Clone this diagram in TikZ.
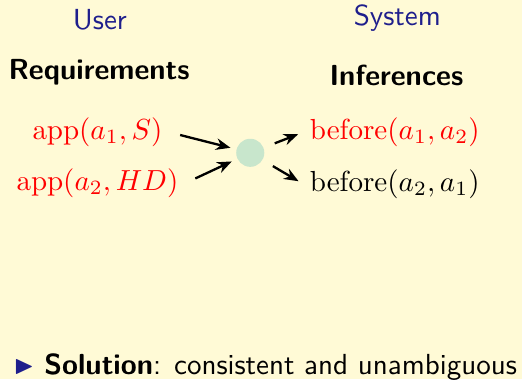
\documentclass[tikz,border=0pt]{standalone}
\usepackage{amsmath, amssymb}
\usepackage{tikz}
\usetikzlibrary{arrows.meta, positioning, calc}
\usepackage{xcolor}
\definecolor{slidebg}{RGB}{255,250,214}
\definecolor{structblue}{RGB}{30,30,140}
\definecolor{dotgreen}{RGB}{200,230,204}
\renewcommand{\familydefault}{\sfdefault}

\begin{document}
\begin{tikzpicture}[
  head/.style={font=\sffamily, text=structblue},
  title/.style={font=\sffamily\bfseries},
  fact/.style={inner sep=2pt},
  arrow/.style={-{Stealth[length=5pt, width=4pt]}, thick, shorten >=2pt, shorten <=4pt}
]
\fill[slidebg] (-3.03, 1.85) rectangle (3.29, -2.74);
\useasboundingbox (-3.03, 1.85) rectangle (3.29, -2.74);

\node[head] (user) at (-1.82, 1.61) {User};
\node[head] (system) at (1.78, 1.63) {System};
\node[title] (req) at (-1.83, 0.97) {Requirements};
\node[title] (inf) at (1.77, 0.94) {Inferences};

\node[fact, text=red] (app1) at (-1.85, 0.25) {$\mathrm{app}(a_1, S)$};
\node[fact, text=red] (app2) at (-1.85, -0.37) {$\mathrm{app}(a_2, HD)$};
\node[circle, fill=dotgreen, minimum size=0.34cm, inner sep=0pt] (dot) at (0, 0) {};
\node[fact, text=red] (bef1) at (1.75, 0.25) {$\mathrm{before}(a_1, a_2)$};
\node[fact] (bef2) at (1.75, -0.38) {$\mathrm{before}(a_2, a_1)$};

\draw[arrow] (app1.east) -- (dot);
\draw[arrow] (app2.east) -- (dot);
\draw[arrow] (dot) -- (bef1.west);
\draw[arrow] (dot) -- (bef2.west);

% bottom line of the slide
\node[text=structblue, inner sep=0pt, font=\small] (bullet) at (-2.74, -2.59) {$\blacktriangleright$};
\node[anchor=west, inner sep=0pt] (sol) at (-2.5, -2.59) {\textbf{Solution}: consistent and unambiguous};
\end{tikzpicture}
\end{document}
